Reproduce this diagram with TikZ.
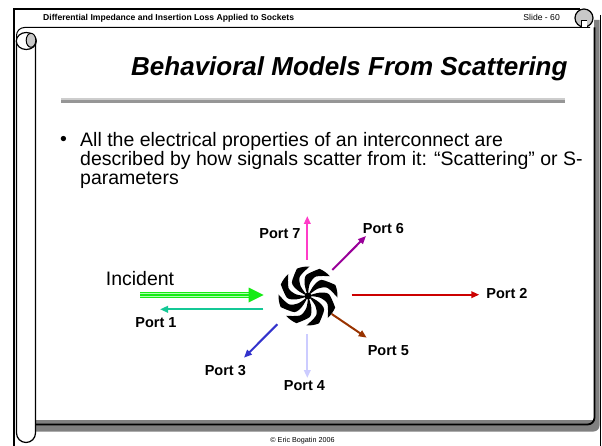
\documentclass[tikz,border=0pt]{standalone}
\usepackage{fontspec}
\setmainfont{Liberation Sans}
\usetikzlibrary{arrows.meta,calc}

\definecolor{rollgray}{RGB}{128,128,128}
\definecolor{curlgray}{RGB}{200,200,200}
\definecolor{rulegray}{RGB}{150,150,150}
\definecolor{rulelight}{RGB}{205,205,205}
\definecolor{incgreen}{RGB}{20,235,20}
\definecolor{inclight}{RGB}{175,255,175}
\definecolor{pteal}{RGB}{20,200,150}
\definecolor{ppink}{RGB}{255,60,200}
\definecolor{ppurple}{RGB}{153,0,153}
\definecolor{pred}{RGB}{204,0,0}
\definecolor{pbrown}{RGB}{153,51,0}
\definecolor{plavender}{RGB}{204,204,255}
\definecolor{pblue}{RGB}{51,51,204}

\tikzset{
  portarrow/.style={line width=2pt, -{Triangle[length=8pt,width=6.5pt]}},
  portlabel/.style={font=\fontsize{14.5}{16}\bfseries\selectfont, inner sep=0pt},
  blade/.style={fill=black},
}

\begin{document}
\begin{tikzpicture}[x=1pt,y=-1pt]
\useasboundingbox (0,0) rectangle (602,446);

% ---- scroll frame ----
% grey roll on the right and shadow under the panel
\fill[rollgray] (36,420) -- (36,431.5) [rounded corners=6pt] -- (599.5,431.5) [sharp corners] -- (599.5,20) -- (594,20) -- (594,420) -- cycle;
% outer frame
\draw[line width=2pt] (13.5,446) -- (13.5,9.5) -- (580,9.5);
\draw[line width=1pt] (600.5,15) -- (600.5,446);
% header bottom edge curling into the left roll
\draw[line width=1pt, rounded corners=8pt] (16.5,42) |- (590,27.5);
% panel right and bottom edges
\draw[line width=1.8pt, rounded corners=7pt] (594.5,27.5) -- (594.5,424.5) -- (35.5,424.5);
% left roll (tube)
\fill[white] (16.5,41) rectangle (35.5,433);
\draw[line width=1.2pt] (35.5,41) -- (35.5,433) arc (0:180:9.5) -- (16.5,41);
\draw[line width=1.2pt, fill=white] (26.3,41) ellipse [x radius=10, y radius=8.5];
\draw[line width=1pt, fill=curlgray] (31,40.3) ellipse [x radius=4.8, y radius=7];
% right curl
\draw[line width=1.2pt, fill=curlgray] (584,18) circle [radius=9];
\fill[white] (581,21) rectangle (586.5,27);
\draw[line width=1pt] (581,27) -- (581,21) -- (586.5,21);

% ---- header and footer ----
\node[anchor=base west, inner sep=0pt, font=\fontsize{8.6}{10}\bfseries\selectfont] (hdr) at (43,21) {Differential Impedance and Insertion Loss Applied to Sockets};
\node[anchor=base east, inner sep=0pt, font=\fontsize{8.6}{10}\selectfont] (slide) at (560,21) {Slide - 60};
\node[anchor=base, inner sep=0pt, font=\fontsize{7.2}{9}\selectfont] (foot) at (302.5,442) {© Eric Bogatin 2006};

% ---- title ----
\node[anchor=base west, inner sep=0pt, font=\fontsize{26}{30}\bfseries\itshape\selectfont] (title) at (131,76) {Behavioral Models From Scattering};
\draw[line width=3.5pt, rulegray] (61,101) -- (565,101);
\draw[line width=1.2pt, rulelight] (61,99) -- (565,99);

% ---- bullet ----
\node[anchor=base west, inner sep=0pt, font=\fontsize{19.5}{19}\selectfont] (dot) at (60,146) {•};
\node[anchor=north west, inner sep=0pt, align=left, font=\fontsize{19.5}{19}\selectfont] (body) at (80,131.8)
  {All the electrical properties of an interconnect are\\
   described by how signals scatter from it: “Scattering” or S-\\
   parameters};

% ---- scattering object: an eight-bladed swirl ----
\node[circle, minimum size=60pt, inner sep=0pt] (sw) at (308,296) {};
\begin{scope}[shift={(sw.center)}]
  \foreach \a in {0,45,...,315}{
    \fill[blade]
      plot[smooth] coordinates {({\a}:2) ({\a+8}:12) ({\a+22}:21) ({\a+48}:29.5)}
      arc[start angle={\a+48}, end angle={\a+23}, radius=29.5]
      -- plot[smooth] coordinates {({\a+23}:29.5) ({\a-5}:21) ({\a-16}:12) ({\a-24}:2)}
      -- cycle;
  }
  \fill[black] (0,0) circle [radius=3.5];
\end{scope}

% ---- incident wave ----
\coordinate (incs) at (140,295);
\coordinate (ince) at (263.5,295);
\node[anchor=center, inner sep=0pt, font=\fontsize{19.5}{22}\selectfont] (inc) at (140,278.4) {Incident};
\draw[line width=5.6pt, inclight] (incs) -- ([xshift=-14]ince);
\foreach \dy in {-2.2,0,2.2}{
  \draw[line width=1.1pt, incgreen] ([yshift=\dy]incs) -- ([xshift=-14, yshift=\dy]ince);
}
\fill[incgreen] ($(ince)+(-15,-7.5)$) -- (ince) -- ($(ince)+(-15,7.5)$) -- cycle;

% ---- scattered waves ----
\coordinate (p1s) at (263.3,309.3);  \coordinate (p1e) at (160,309.3);
\coordinate (p7s) at (307.3,260);    \coordinate (p7e) at (307.3,216);
\coordinate (p6s) at (332.3,270);    \coordinate (p6e) at (366,236);
\coordinate (p2s) at (351.7,294.7);  \coordinate (p2e) at (479.3,294.7);
\coordinate (p5s) at (331.7,314);    \coordinate (p5e) at (366.7,337.7);
\coordinate (p4s) at (307.3,334);    \coordinate (p4e) at (307.3,378);
\coordinate (p3s) at (277.3,324.3);  \coordinate (p3e) at (244,357.7);

\draw[portarrow, pteal]     (p1s) -- (p1e);
\draw[portarrow, ppink]     (p7s) -- (p7e);
\draw[portarrow, ppurple]   (p6s) -- (p6e);
\draw[portarrow, pred]      (p2s) -- (p2e);
\draw[portarrow, pbrown]    (p5s) -- (p5e);
\draw[portarrow, plavender] (p4s) -- (p4e);
\draw[portarrow, pblue]     (p3s) -- (p3e);

\node[portlabel] (l1) at (156,322.3) {Port 1};
\node[portlabel] (l7) at (280,233.3) {Port 7};
\node[portlabel] (l6) at (383.5,228.3) {Port 6};
\node[portlabel] (l2) at (507,293.5) {Port 2};
\node[portlabel] (l5) at (388.3,351) {Port 5};
\node[portlabel] (l4) at (304.5,385.7) {Port 4};
\node[portlabel] (l3) at (225.3,371) {Port 3};
\end{tikzpicture}
\end{document}
